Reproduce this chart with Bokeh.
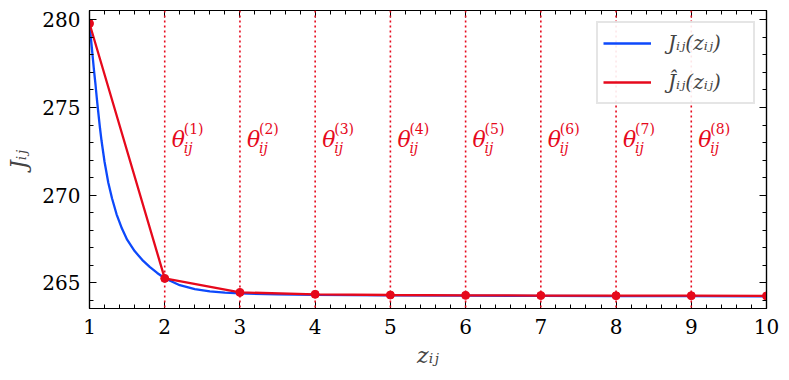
from bokeh.plotting import figure
from bokeh.models import (Range1d, LinearAxis, SingleIntervalTicker, Span,
                          Legend, LegendItem)
from bokeh.core.properties import value
from bokeh.embed import file_html
from bokeh.resources import INLINE

BLUE = "#0d49fb"
RED = "#e6091c"
SERIF = "DejaVu Serif"

# smooth cost curve J_ij(z_ij)
z_smooth = [1.0, 1.02, 1.04, 1.06, 1.08, 1.10, 1.12, 1.14, 1.16, 1.20, 1.25, 1.30,
            1.36, 1.43, 1.50, 1.60, 1.70, 1.80, 1.90, 2.0, 2.2, 2.4, 2.6, 2.8,
            3.0, 3.5, 4.0, 5.0, 6.0, 7.0, 8.0, 9.0, 10.0]
J_smooth = [279.8, 278.9, 278.0, 277.1, 276.3, 275.4, 274.6, 273.8, 273.1, 271.9, 270.7, 269.8,
            268.9, 268.1, 267.45, 266.8, 266.3, 265.9, 265.55, 265.25, 264.85, 264.63, 264.5, 264.43,
            264.38, 264.33, 264.3, 264.27, 264.25, 264.24, 264.23, 264.23, 264.22]

# piecewise-linear approximation \hat J_ij(z_ij)
z_points = [1, 2, 3, 4, 5, 6, 7, 8, 9, 10]
J_hat = [279.8, 265.24, 264.44, 264.33, 264.29, 264.27, 264.26, 264.25, 264.25, 264.24]

# breakpoints theta_ij^(k)
theta_z = [2, 3, 4, 5, 6, 7, 8, 9]
theta_sup = ["(1)", "(2)", "(3)", "(4)", "(5)", "(6)", "(7)", "(8)"]
theta_label_y = 273.2

x_ticks_interval = 1
y_ticks_interval = 5

p = figure(width=781, height=374,
           min_border_left=89, min_border_top=10, min_border_right=15, min_border_bottom=66,
           x_range=Range1d(1, 10), y_range=Range1d(263.52, 280.54),
           output_backend="svg", toolbar_location=None)
p.xgrid.visible = False
p.ygrid.visible = False
p.outline_line_color = "black"
p.outline_line_width = 1.2


def style_axis(ax, labels=True):
    ax.major_tick_in = 7
    ax.major_tick_out = 0
    ax.minor_tick_in = 4
    ax.minor_tick_out = 0
    ax.axis_line_color = "black"
    ax.axis_line_width = 1.2
    ax.major_tick_line_color = "black"
    ax.minor_tick_line_color = "black"
    if labels:
        ax.major_label_text_font = SERIF
        ax.major_label_text_font_size = "20px"
        ax.major_label_text_color = "black"
    else:
        ax.major_label_text_font_size = "0px"
        ax.major_label_text_color = None
        ax.major_label_standoff = 0


xb = p.below[0]
xb.ticker = SingleIntervalTicker(interval=x_ticks_interval, num_minor_ticks=5)
style_axis(xb)
xb.major_label_standoff = 10
xb.axis_label = "zᵢⱼ"
xb.axis_label_text_font = SERIF
xb.axis_label_text_font_style = "italic"
xb.axis_label_text_font_size = "22px"
xb.axis_label_standoff = 6

yl = p.left[0]
yl.ticker = SingleIntervalTicker(interval=y_ticks_interval, num_minor_ticks=5)
style_axis(yl)
yl.major_label_standoff = 9
yl.axis_label = "Jᵢⱼ"
yl.axis_label_text_font = SERIF
yl.axis_label_text_font_style = "italic"
yl.axis_label_text_font_size = "22px"
yl.axis_label_standoff = 8

xt = LinearAxis(ticker=SingleIntervalTicker(interval=x_ticks_interval, num_minor_ticks=5))
style_axis(xt, labels=False)
p.add_layout(xt, "above")
yr = LinearAxis(ticker=SingleIntervalTicker(interval=y_ticks_interval, num_minor_ticks=5))
style_axis(yr, labels=False)
p.add_layout(yr, "right")

for tz in theta_z:
    p.add_layout(Span(location=tz, dimension="height", line_color=RED,
                      line_width=1.6, line_dash="2 3"))

blue = p.line(z_smooth, J_smooth, line_color=BLUE, line_width=2.3)
red = p.line(z_points, J_hat, line_color=RED, line_width=2.3)
p.scatter(z_points, J_hat, size=8, fill_color=RED, line_color=RED)

p.text(x=theta_z, y=[theta_label_y] * len(theta_z), text=["θ"] * len(theta_z),
       x_offset=7, y_offset=0, text_baseline="middle", text_align="left",
       text_font=value(SERIF), text_font_style="italic", text_font_size="22px",
       text_color=RED)
p.text(x=theta_z, y=[theta_label_y] * len(theta_z), text=theta_sup,
       x_offset=19, y_offset=-10, text_baseline="middle", text_align="left",
       text_font=value(SERIF), text_font_size="14px", text_color=RED)
p.text(x=theta_z, y=[theta_label_y] * len(theta_z), text=["ij"] * len(theta_z),
       x_offset=19, y_offset=9, text_baseline="middle", text_align="left",
       text_font=value(SERIF), text_font_style="italic", text_font_size="14px",
       text_color=RED)

legend = Legend(items=[LegendItem(label="Jᵢⱼ(zᵢⱼ)", renderers=[blue]),
                       LegendItem(label="Ĵᵢⱼ(zᵢⱼ)", renderers=[red])],
                location="top_right", margin=11, padding=5, spacing=9,
                glyph_width=48, glyph_height=30, label_height=30, label_standoff=17,
                label_width=80,
                label_text_font=SERIF, label_text_font_style="italic",
                label_text_font_size="20px",
                border_line_color="#cccccc", border_line_width=2,
                background_fill_color="white", background_fill_alpha=0.9)
p.add_layout(legend)

open("out.html", "w").write(file_html(p, INLINE))
